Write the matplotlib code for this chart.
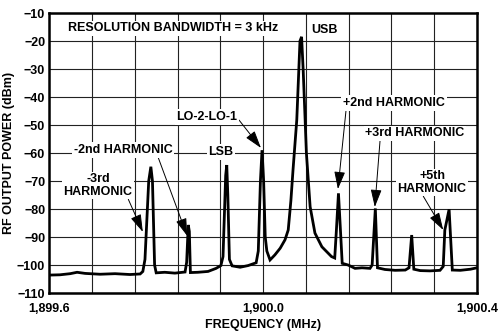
import numpy as np
import matplotlib.pyplot as plt
from matplotlib.ticker import FixedLocator

plt.rcParams['font.family'] = ['Liberation Sans', 'DejaVu Sans']
plt.rcParams['font.weight'] = 'bold'

# spectrum trace
freq_mhz = [1899.600, 1899.620, 1899.639, 1899.652, 1899.667, 1899.695, 1899.723,
            1899.751, 1899.770, 1899.775, 1899.779, 1899.786, 1899.790, 1899.793,
            1899.797, 1899.800, 1899.816, 1899.835, 1899.854, 1899.857, 1899.860,
            1899.862, 1899.864, 1899.878, 1899.897, 1899.912, 1899.921, 1899.925,
            1899.930, 1899.932, 1899.934, 1899.937, 1899.942, 1899.957, 1899.972,
            1899.987, 1899.991, 1899.995, 1899.998, 1900.001, 1900.004, 1900.007,
            1900.013, 1900.022, 1900.032, 1900.041, 1900.047, 1900.052, 1900.056,
            1900.063, 1900.069, 1900.072, 1900.075, 1900.078, 1900.081, 1900.088,
            1900.097, 1900.110, 1900.128, 1900.134, 1900.137, 1900.141, 1900.144,
            1900.148, 1900.159, 1900.172, 1900.185, 1900.200, 1900.204, 1900.210,
            1900.214, 1900.228, 1900.247, 1900.266, 1900.273, 1900.278, 1900.282,
            1900.294, 1900.312, 1900.331, 1900.337, 1900.340, 1900.348, 1900.354,
            1900.369, 1900.388, 1900.400]
power_dbm = [-103.6, -103.5, -103.1, -102.6, -103.0, -103.3, -103.1,
             -103.4, -103.2, -102.3, -98.0, -70.0, -64.9, -70.0,
             -100.0, -102.8, -102.6, -102.9, -102.5, -99.0, -85.7,
             -88.0, -102.7, -102.6, -102.3, -101.2, -100.2, -97.0,
             -68.0, -64.3, -75.0, -98.0, -100.3, -100.8, -100.2,
             -99.2, -95.0, -70.0, -59.0, -70.0, -90.0, -95.0,
             -98.2, -96.4, -94.0, -91.0, -87.5, -77.0, -66.0,
             -48.2, -20.0, -18.5, -30.4, -45.0, -60.0, -79.2,
             -88.6, -93.5, -97.0, -97.5, -88.0, -74.4, -85.0,
             -99.4, -100.0, -101.2, -101.0, -101.2, -100.0, -79.8,
             -101.0, -101.6, -101.9, -101.8, -101.0, -89.3, -101.5,
             -102.0, -102.1, -101.9, -100.5, -87.5, -80.1, -101.8,
             -101.9, -101.5, -101.0]

x_grid = [1899.6 + 0.08 * i for i in range(11)]
x_labels = ['1,899.6', '', '', '', '', '1,900.0', '', '', '', '', '1,900.4']
y_ticks = list(range(-110, 0, 10))

FS = 9

fig = plt.figure(figsize=(5.02, 3.31), dpi=100)
ax = fig.add_axes([0.0982, 0.1148, 0.8518, 0.8459])

ax.plot(freq_mhz, power_dbm, color='black', lw=2.0, solid_joinstyle='miter')

ax.set_xlim(1899.6, 1900.4)
ax.set_ylim(-110, -10)
ax.xaxis.set_major_locator(FixedLocator(x_grid))
ax.set_xticklabels(x_labels)
ax.set_yticks(y_ticks)
ax.grid(True, color='#222222', lw=0.8)
ax.set_axisbelow(True)
ax.tick_params(length=0, labelsize=FS)
ax.tick_params(axis='x', pad=7)
ax.tick_params(axis='y', pad=3)
for lab in ax.get_xticklabels() + ax.get_yticklabels():
    lab.set_fontweight('bold')
for sp in ax.spines.values():
    sp.set_linewidth(1.8)

ax.set_xlabel('FREQUENCY (MHz)', fontsize=FS, fontweight='bold', labelpad=3)
ax.set_ylabel('RF OUTPUT POWER (dBm)', fontsize=FS, fontweight='bold', labelpad=1)

box = dict(facecolor='white', edgecolor='none', pad=1.2)
tkw = dict(fontsize=FS, fontweight='bold', ha='center', va='center', bbox=box)

def arrow(rel):
    return dict(arrowstyle='-|>,head_length=0.9,head_width=0.28', color='black',
                lw=0.7, mutation_scale=12, relpos=rel, shrinkA=0, shrinkB=0)

ax.text(1899.831, -15.4, 'RESOLUTION BANDWIDTH = 3 kHz', **tkw)
ax.text(1900.091, -16.1, 'USB', fontsize=FS, fontweight='bold', ha='left', va='center', bbox=box)
ax.text(1899.921, -59.6, 'LSB', **tkw)

ax.annotate('LO-2-LO-1', xy=(1899.996, -58.2), xytext=(1899.895, -47.1),
            arrowprops=arrow((1.0, 0.4)), **tkw)
ax.annotate('-2nd HARMONIC', xy=(1899.858, -89.6), xytext=(1899.738, -58.9),
            arrowprops=arrow((0.85, 0.0)), **tkw)
ax.annotate('-3rd\nHARMONIC', xy=(1899.775, -88.2), xytext=(1899.691, -71.6),
            arrowprops=arrow((0.93, 0.0)), linespacing=1.05, **tkw)
ax.annotate('+2nd HARMONIC', xy=(1900.140, -72.9), xytext=(1900.245, -42.1),
            arrowprops=arrow((0.03, 0.0)), **tkw)
ax.annotate('+3rd HARMONIC', xy=(1900.209, -79.3), xytext=(1900.284, -52.9),
            arrowprops=arrow((0.15, 0.0)), **tkw)
ax.annotate('+5th\nHARMONIC', xy=(1900.337, -87.5), xytext=(1900.316, -70.5),
            arrowprops=arrow((0.36, 0.0)), linespacing=1.05, **tkw)

fig.savefig('out.png', dpi=100)
